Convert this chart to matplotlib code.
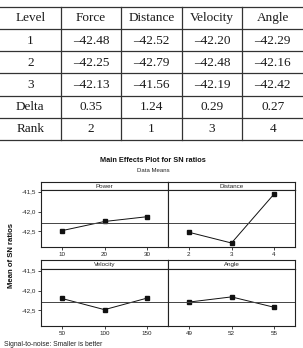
import numpy as np
import matplotlib
matplotlib.use("Agg")
import matplotlib.pyplot as plt
from matplotlib.ticker import FuncFormatter

# ---- table data ----
col_labels = ["Level", "Force", "Distance", "Velocity", "Angle"]
row_labels = ["1", "2", "3", "Delta", "Rank"]
force = [-42.48, -42.25, -42.13]
distance = [-42.52, -42.79, -41.56]
velocity = [-42.20, -42.48, -42.19]
angle = [-42.29, -42.16, -42.42]
delta = [0.35, 1.24, 0.29, 0.27]
rank = [2, 1, 3, 4]

# ---- main effects plot data ----
panel_titles = ["Power", "Distance", "Velocity", "Angle"]
panel_levels = [["10", "20", "30"], ["2", "3", "4"], ["50", "100", "150"], ["49", "52", "55"]]
panel_means = [force, distance, velocity, angle]
y_ticks = [-41.5, -42.0, -42.5]

W, H = 303, 348
fig = plt.figure(figsize=(W / 100, H / 100), dpi=100)
plt.rcParams["font.family"] = ["Liberation Sans", "DejaVu Sans"]


def px_axes(x0, y0, x1, y1):
    return fig.add_axes([x0 / W, 1 - y1 / H, (x1 - x0) / W, (y1 - y0) / H])


# ---- table (drawn on an overlay axes in pixel units) ----
ax_t = px_axes(0, 0, W, H)
ax_t.set_xlim(0, W)
ax_t.set_ylim(H, 0)
ax_t.axis("off")

top, row_h = 6.7, 22.2
n_rows = len(row_labels) + 1
col_w = W / len(col_labels)
for i in range(n_rows + 1):
    ax_t.axhline(top + i * row_h, color="#333333", lw=0.9)
for j in range(1, len(col_labels)):
    ax_t.plot([j * col_w, j * col_w], [top, top + n_rows * row_h], color="#333333", lw=0.9)


def fmt_val(v):
    return ("\u2013%.2f" % abs(v)) if v < 0 else "%.2f" % v


cells = [col_labels]
for k in range(3):
    cells.append([row_labels[k]] + [fmt_val(s[k]) for s in (force, distance, velocity, angle)])
cells.append([row_labels[3]] + [fmt_val(d) for d in delta])
cells.append([row_labels[4]] + [str(r) for r in rank])
for i, row in enumerate(cells):
    for j, txt in enumerate(row):
        ax_t.text((j + 0.5) * col_w, top + (i + 0.5) * row_h + 0.5, txt,
                  ha="center", va="center", fontsize=9.5, color="#1a1a1a",
                  family=["Liberation Serif", "DejaVu Serif"])

# ---- figure texts ----
ax_t.text(153, 161, "Main Effects Plot for SN ratios", ha="center", va="center",
          fontsize=5.3, weight="bold", color="#111111")
ax_t.text(153, 170, "Data Means", ha="center", va="center", fontsize=4.3, color="#222222")
ax_t.text(12, 256, "Mean of SN ratios", ha="center", va="center", rotation=90,
          fontsize=5.6, weight="bold", color="#111111")
ax_t.text(4, 344, "Signal-to-noise: Smaller is better", ha="left", va="center",
          fontsize=4.9, color="#222222")

# ---- panels ----
grand_mean = np.mean(force)
cols_x = [(41, 168), (168, 295)]
rows_y = [(182, 190, 247), (260, 269, 326)]
ylim = (-42.89, -41.46)

for idx, title in enumerate(panel_titles):
    r, c = divmod(idx, 2)
    x0, x1 = cols_x[c]
    ys, yp, yb = rows_y[r]

    strip = px_axes(x0, ys, x1, yp)
    strip.set_xticks([])
    strip.set_yticks([])
    strip.text(0.5, 0.45, title, ha="center", va="center", fontsize=4.5,
               color="#222222", transform=strip.transAxes)

    ax = px_axes(x0, yp, x1, yb)
    xs = np.arange(len(panel_levels[idx]))
    ax.plot(xs, panel_means[idx], color="#111111", lw=0.7, marker="s", ms=2.2)
    ax.axhline(grand_mean, color="#444444", lw=0.7)
    ax.set_xlim(-0.49, 2.49)
    ax.set_ylim(*ylim)
    ax.set_xticks(xs)
    ax.set_xticklabels(panel_levels[idx])
    ax.set_yticks(y_ticks)
    ax.yaxis.set_major_formatter(FuncFormatter(lambda v, p: ("%.1f" % v).replace(".", ",")))
    if c == 1:
        ax.tick_params(axis="y", left=False, labelleft=False)
    ax.tick_params(direction="out", length=2, width=0.6, labelsize=4.5,
                   colors="#222222", pad=1.5)
    for a in (strip, ax):
        for sp in a.spines.values():
            sp.set_color("#222222")
            sp.set_linewidth(0.8)

fig.savefig("out.png", dpi=100)
